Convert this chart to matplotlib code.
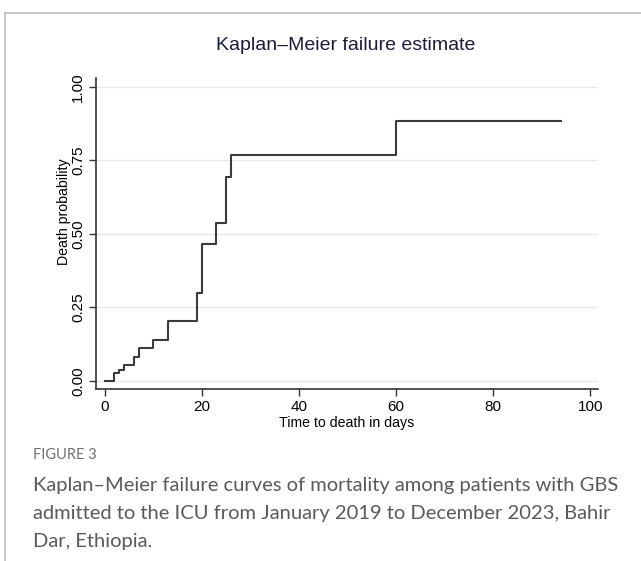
import matplotlib.pyplot as plt
from matplotlib.lines import Line2D

plt.rcParams["font.family"] = ["Liberation Sans", "DejaVu Sans"]

# event times (days) and cumulative failure probability
days = [0, 2, 3, 4, 6, 7, 10, 13, 19, 20, 23, 25, 26, 60, 94]
failure = [0.0, 0.026, 0.036, 0.054, 0.082, 0.113, 0.139, 0.203,
           0.300, 0.464, 0.537, 0.693, 0.768, 0.883, 0.883]

xticks = [0, 20, 40, 60, 80, 100]
yticks = [0.0, 0.25, 0.5, 0.75, 1.0]
ytick_labels = ["0.00", "0.25", "0.50", "0.75", "1.00"]

W, H = 641, 561
fig = plt.figure(figsize=(W / 100, H / 100), dpi=100)
fig.patch.set_facecolor("white")

# card border (top and left)
fig.add_artist(Line2D([5 / W, 1], [1 - 13 / H, 1 - 13 / H], color="#bdbdbd", lw=1.2))
fig.add_artist(Line2D([5 / W, 5 / W], [0, 1 - 13 / H], color="#bdbdbd", lw=1.2))

left, right, top, bottom = 96, 598, 78, 389
ax = fig.add_axes([left / W, 1 - bottom / H, (right - left) / W, (bottom - top) / H])

ax.step(days, failure, where="post", color="#3c3c3c", lw=1.5)

ax.set_xlim(-1.8, 101.6)
ax.set_ylim(-0.028, 1.03)
ax.set_xticks(xticks)
ax.set_yticks(yticks)
ax.set_yticklabels(ytick_labels, rotation=90, va="center")
ax.tick_params(axis="both", labelsize=11, color="#333333", length=5, width=1, pad=3)
ax.grid(axis="y", color="#e8e8e8", lw=1)
ax.set_axisbelow(True)
for s in ["top", "right"]:
    ax.spines[s].set_visible(False)
for s in ["left", "bottom"]:
    ax.spines[s].set_color("#333333")
    ax.spines[s].set_linewidth(1.2)

ax.set_xlabel("Time to death in days", fontsize=10.2, labelpad=1)
ax.set_ylabel("Death probability", fontsize=10.2)
ax.yaxis.set_label_coords(-0.05, 0.569)

fig.text(346 / W, 1 - 45 / H, "Kaplan\u2013Meier failure estimate", ha="center", va="center",
         fontsize=14, color="#1c1c3c")

fig.text(33 / W, 1 - 455 / H, "FIGURE 3", ha="left", va="center",
         fontsize=10.5, color="#707070", family="Lato")
caption = ["Kaplan\u2013Meier failure curves of mortality among patients with GBS",
           "admitted to the ICU from January 2019 to December 2023, Bahir",
           "Dar, Ethiopia."]
for i, line in enumerate(caption):
    fig.text(33 / W, 1 - (486 + 27.5 * i) / H, line, ha="left", va="center",
             fontsize=14.5, color="#5a5a5a", family="Lato")

fig.savefig("out.png", dpi=100)
